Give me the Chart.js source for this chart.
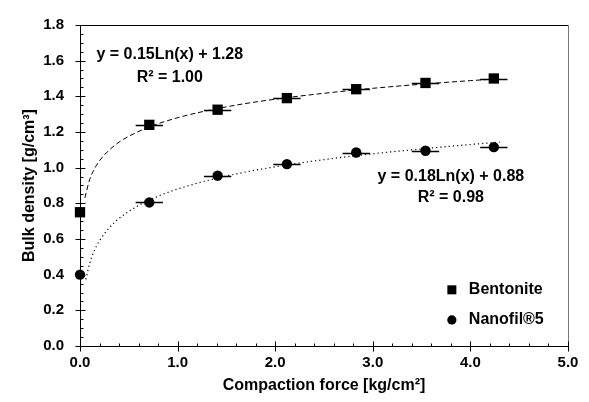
<!DOCTYPE html>
<html><head><meta charset="utf-8">
<script src="https://cdn.jsdelivr.net/npm/chart.js@4.4.1/dist/chart.umd.min.js"></script>
<style>html,body{margin:0;padding:0;background:#fff;}</style>
</head><body>
<canvas id="c" width="589" height="402" style="display:block;width:589px;height:402px"></canvas>
<script>
// ---- data ----
const forceX = [0, 0.71, 1.41, 2.12, 2.83, 3.54, 4.24];
const forceErr = [0, 0.14, 0.14, 0.14, 0.14, 0.14, 0.14];
const bentoniteY = [0.75, 1.24, 1.325, 1.39, 1.44, 1.475, 1.50];
const nanofilY = [0.40, 0.805, 0.955, 1.02, 1.085, 1.095, 1.115];
const bentoniteTrendX = [0.05, 0.1, 0.15, 0.2, 0.3, 0.4, 0.5, 0.7, 1.0, 1.5, 2.0, 2.5, 3.0, 3.5, 4.0, 4.3];
const bentoniteTrendY = [0.831, 0.935, 0.995, 1.039, 1.099, 1.143, 1.176, 1.226, 1.28, 1.341, 1.384, 1.417, 1.445, 1.468, 1.488, 1.499];
const nanofilTrendX = [0.06, 0.1, 0.15, 0.2, 0.3, 0.4, 0.5, 0.7, 1.0, 1.5, 2.0, 2.5, 3.0, 3.5, 4.0, 4.3];
const nanofilTrendY = [0.374, 0.465, 0.539, 0.590, 0.663, 0.715, 0.755, 0.816, 0.880, 0.953, 1.005, 1.045, 1.078, 1.105, 1.130, 1.143];
const xTickValues = [0, 1, 2, 3, 4, 5];
const yTickValues = [0, 0.2, 0.4, 0.6, 0.8, 1.0, 1.2, 1.4, 1.6, 1.8];
const seriesNames = ['Bentonite', 'Nanofil\u00AE5'];
const equations = [['y = 0.15Ln(x) + 1.28', 'R\u00B2 = 1.00'], ['y = 0.18Ln(x) + 0.88', 'R\u00B2 = 0.98']];

const FONT = '"Liberation Sans", Arial, Helvetica, sans-serif';
const pts = (xs, ys) => xs.map((v, i) => ({x: v, y: ys[i]}));

const decor = {
  id: 'decor',
  beforeDatasetsDraw(chart) {
    const {ctx, scales: {x, y}} = chart;
    ctx.save();
    ctx.strokeStyle = '#000'; ctx.lineWidth = 1.5;
    [bentoniteY, nanofilY].forEach(ys => {
      forceX.forEach((fx, i) => {
        if (!forceErr[i]) return;
        const py = Math.round(y.getPixelForValue(ys[i])) + 0.5;
        ctx.beginPath();
        ctx.moveTo(x.getPixelForValue(fx - forceErr[i]), py);
        ctx.lineTo(x.getPixelForValue(fx + forceErr[i]), py);
        ctx.stroke();
      });
    });
    ctx.restore();
  },
  beforeDraw(chart) {
    const {ctx, chartArea: a, scales: {x, y}} = chart;
    const L = Math.round(a.left) + 0.5, R = Math.round(a.right) + 0.5;
    const T = Math.round(a.top) + 0.5, B = Math.round(a.bottom) + 0.5;
    ctx.save();
    ctx.lineWidth = 1;
    ctx.strokeStyle = '#000';
    ctx.beginPath(); ctx.moveTo(L, T); ctx.lineTo(R, T); ctx.stroke();
    ctx.strokeStyle = '#777';
    ctx.beginPath(); ctx.moveTo(R, T); ctx.lineTo(R, B); ctx.stroke();
    ctx.strokeStyle = '#000';
    ctx.beginPath(); ctx.moveTo(L, T); ctx.lineTo(L, B); ctx.lineTo(R, B); ctx.stroke();
    for (let v = 0; v <= 1.8001; v += 0.05) {
      const py = Math.round(y.getPixelForValue(v)) + 0.5;
      const major = Math.abs(v / 0.2 - Math.round(v / 0.2)) < 1e-6;
      ctx.beginPath();
      if (major) { ctx.moveTo(L - 5, py); ctx.lineTo(L + 5, py); }
      else { ctx.moveTo(L, py); ctx.lineTo(L + 3, py); }
      ctx.stroke();
    }
    for (let v = 0; v <= 5.0001; v += 0.2) {
      const px = Math.round(x.getPixelForValue(v)) + 0.5;
      const major = Math.abs(v - Math.round(v)) < 1e-6;
      ctx.beginPath();
      if (major) { ctx.moveTo(px, B - 5); ctx.lineTo(px, B + 5); }
      else { ctx.moveTo(px, B); ctx.lineTo(px, B - 3); }
      ctx.stroke();
    }
    ctx.restore();
  },
  afterDraw(chart) {
    const {ctx, scales: {x, y}} = chart;
    ctx.save();
    ctx.fillStyle = '#000';
    ctx.font = 'bold 16px ' + FONT;
    ctx.textAlign = 'center'; ctx.textBaseline = 'middle';
    const eqPos = [[0.92, 1.633, 1.506], [3.80, 0.951, 0.833]];
    equations.forEach((eq, i) => {
      const cx = x.getPixelForValue(eqPos[i][0]);
      ctx.fillText(eq[0], cx, y.getPixelForValue(eqPos[i][1]));
      ctx.fillText(eq[1], cx, y.getPixelForValue(eqPos[i][2]));
    });
    const lgX = x.getPixelForValue(3.81);
    const lgY = [y.getPixelForValue(0.315), y.getPixelForValue(0.146)];
    ctx.fillRect(lgX - 4.5, lgY[0] - 4.5, 9, 9);
    ctx.beginPath(); ctx.arc(lgX, lgY[1], 4.6, 0, Math.PI * 2); ctx.fill();
    ctx.textAlign = 'left';
    seriesNames.forEach((n, i) => ctx.fillText(n, lgX + 17, lgY[i]));
    ctx.restore();
  }
};

const tickFont = {family: FONT, size: 15, weight: 'bold'};
const titleFont = {family: FONT, size: 16, weight: 'bold'};

new Chart(document.getElementById('c'), {
  type: 'scatter',
  data: {
    datasets: [
      {label: seriesNames[0] + ' trend', type: 'line', data: pts(bentoniteTrendX, bentoniteTrendY),
       borderColor: '#000', borderWidth: 1, borderDash: [5, 3], pointRadius: 0, cubicInterpolationMode: 'monotone', fill: false},
      {label: seriesNames[1] + ' trend', type: 'line', data: pts(nanofilTrendX, nanofilTrendY),
       borderColor: '#000', borderWidth: 1.2, borderDash: [1.2, 3], pointRadius: 0, cubicInterpolationMode: 'monotone', fill: false},
      {label: seriesNames[0], data: pts(forceX, bentoniteY), pointStyle: 'rect', pointRadius: 7.3, clip: false,
       backgroundColor: '#000', borderColor: '#000', borderWidth: 0},
      {label: seriesNames[1], data: pts(forceX, nanofilY), pointStyle: 'circle', pointRadius: 5.2, clip: false,
       backgroundColor: '#000', borderColor: '#000', borderWidth: 0}
    ]
  },
  options: {
    responsive: false, animation: false, devicePixelRatio: 1,
    layout: {padding: {top: 16, right: 21, left: 0, bottom: 0}},
    plugins: {legend: {display: false}, tooltip: {enabled: false}},
    scales: {
      x: {
        type: 'linear', min: 0, max: 5,
        afterFit(s) { s.height = 56; },
        afterBuildTicks(s) { s.ticks = xTickValues.map(v => ({value: v})); },
        grid: {display: false, drawTicks: false}, border: {display: false},
        ticks: {font: tickFont, color: '#000', padding: 8, maxRotation: 0, callback: v => Number(v).toFixed(1)},
        title: {display: true, text: 'Compaction force [kg/cm\u00B2]', font: titleFont, color: '#000', padding: {top: 0, bottom: 7}}
      },
      y: {
        type: 'linear', min: 0, max: 1.8,
        afterFit(s) { s.width = 80; },
        afterBuildTicks(s) { s.ticks = yTickValues.map(v => ({value: v})); },
        grid: {display: false, drawTicks: false}, border: {display: false},
        ticks: {font: tickFont, color: '#000', padding: 16, callback: v => Number(v).toFixed(1)},
        title: {display: true, text: 'Bulk density [g/cm\u00B3]', font: titleFont, color: '#000', padding: {top: 20, bottom: 0}}
      }
    }
  },
  plugins: [decor]
});
</script>
</body></html>
